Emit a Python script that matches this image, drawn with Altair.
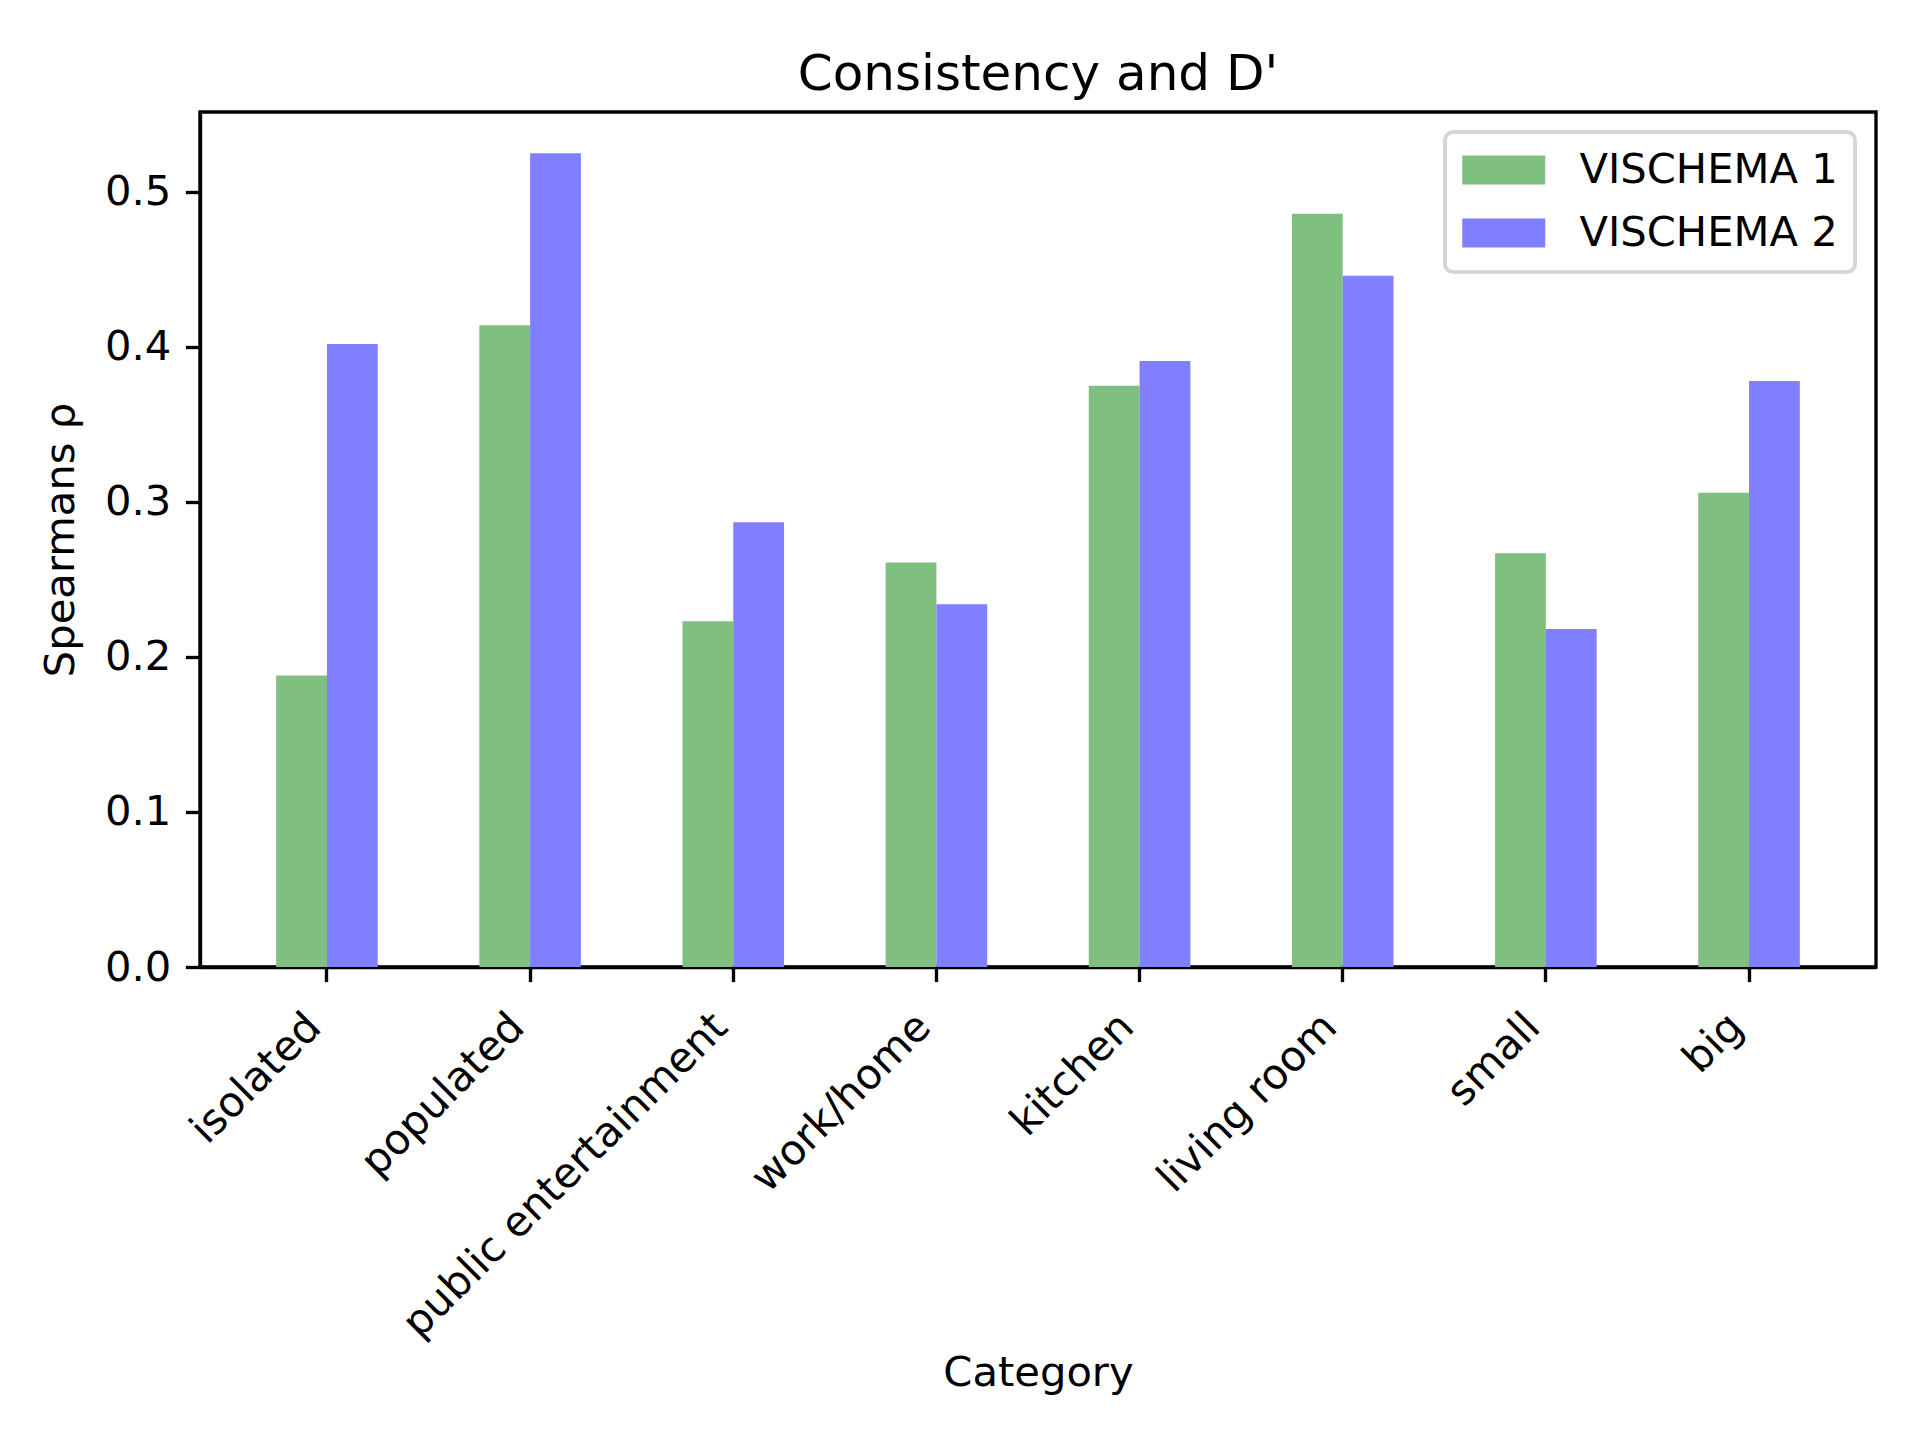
import altair as alt
import pandas as pd

categories = ["isolated", "populated", "public entertainment", "work/home",
              "kitchen", "living room", "small", "big"]
series_names = ["VISCHEMA 1", "VISCHEMA 2"]
vischema1 = [0.188, 0.414, 0.223, 0.261, 0.375, 0.486, 0.267, 0.306]
vischema2 = [0.402, 0.525, 0.287, 0.234, 0.391, 0.446, 0.218, 0.378]
y_ticks = [0.0, 0.1, 0.2, 0.3, 0.4, 0.5]
colors = ["#7fbf7f", "#7f7fff"]

rows = []
for c, v1, v2 in zip(categories, vischema1, vischema2):
    rows.append({"Category": c, "series": series_names[0], "value": v1})
    rows.append({"Category": c, "series": series_names[1], "value": v2})
df = pd.DataFrame(rows)

FONT = "DejaVu Sans"
FS = 41.67
LW = 3.33

chart = alt.Chart(df).mark_bar(opacity=1).encode(
    x=alt.X("Category:N", sort=categories,
            scale=alt.Scale(paddingInner=0.5, paddingOuter=0.375),
            axis=alt.Axis(title="Category", labelAngle=-45, labelAlign="right",
                          labelBaseline="top", labelPadding=24, labelOffset=-27,
                          labelLimit=0, titleY=418, titleBaseline="alphabetic")),
    xOffset=alt.XOffset("series:N", sort=series_names,
                        scale=alt.Scale(paddingInner=0, paddingOuter=0)),
    y=alt.Y("value:Q", scale=alt.Scale(domain=[0, 0.5516], nice=False),
            axis=alt.Axis(title="Spearmans ρ", values=y_ticks, format=".1f",
                          titlePadding=22)),
    color=alt.Color("series:N", sort=series_names,
                    scale=alt.Scale(domain=series_names, range=colors),
                    legend=alt.Legend(title=None, orient="none", legendX=1245, legendY=20)),
).properties(
    width=1676, height=855,
    title="Consistency and D'",
    autosize=alt.AutoSizeParams(type="none"),
    padding={"left": 192, "top": 104, "right": 36, "bottom": 430},
).configure_view(
    stroke="black", strokeWidth=LW
).configure_axis(
    grid=False, domainColor="black", domainWidth=LW, tickColor="black",
    tickWidth=LW, tickSize=14.6, labelColor="black", titleColor="black",
    labelFont=FONT, titleFont=FONT, labelFontSize=FS, titleFontSize=FS,
    titleFontWeight="normal", labelPadding=14.6
).configure_title(
    font=FONT, fontSize=50, fontWeight="normal", color="black",
    anchor="middle", frame="group", offset=12, baseline="alphabetic"
).configure_legend(
    labelFont=FONT, labelFontSize=FS, labelColor="black", labelLimit=0,
    symbolType="M-1,-0.7H3V0.7H-1Z", symbolSize=1722, symbolStrokeWidth=0,
    symbolOpacity=1, labelOffset=75.5, rowPadding=20, padding=17,
    strokeColor="#d6d6d6", strokeWidth=4, fillColor="white", cornerRadius=8
)

chart.save("out.html", embed_options={"renderer": "svg", "actions": False})
